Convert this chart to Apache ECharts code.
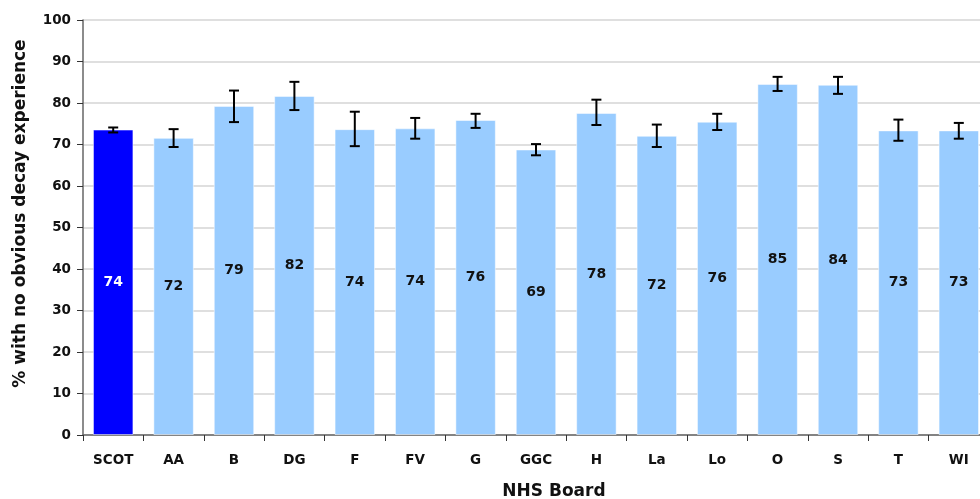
<!DOCTYPE html>
<html><head><meta charset="utf-8">
<script src="https://cdn.jsdelivr.net/npm/echarts@6/dist/echarts.min.js"></script>
<style>html,body{margin:0;padding:0;overflow:hidden;background:#fff}#w{width:980px;height:499px;overflow:hidden;position:relative}#c{width:990px;height:499px;position:absolute;left:0;top:0}</style>
</head><body><div id="w"><div id="c"></div></div>
<script>
const categories = ['SCOT','AA','B','DG','F','FV','G','GGC','H','La','Lo','O','S','T','WI'];
const values = [73.6,71.6,79.3,81.7,73.7,73.9,75.9,68.8,77.6,72.1,75.5,84.6,84.4,73.4,73.4];
const errLow = [72.9,69.4,75.4,78.3,69.6,71.4,74.0,67.4,74.7,69.4,73.5,82.9,82.2,70.9,71.4];
const errHigh = [74.1,73.7,83.0,85.1,77.9,76.4,77.4,70.1,80.8,74.8,77.4,86.3,86.3,76.0,75.2];
const yTicks = [0,10,20,30,40,50,60,70,80,90,100];

const font = 'DejaVu Sans';
const chart = echarts.init(document.getElementById('c'));
chart.setOption({
  animation:false,
  grid:{left:83,right:1,top:20,bottom:64,containLabel:false,outerBoundsMode:'none'},
  xAxis:{type:'category',data:categories,
    name:'NHS Board',nameLocation:'middle',nameGap:48,
    nameTextStyle:{fontFamily:font,fontWeight:'bold',fontSize:17,color:'#111',padding:[0,0,0,36]},
    axisLine:{lineStyle:{color:'#666',width:1.5}},
    axisTick:{show:true,length:6,lineStyle:{color:'#333'}},
    axisLabel:{fontFamily:font,fontWeight:'bold',fontSize:13.5,color:'#111',margin:18}},
  yAxis:{type:'value',min:yTicks[0],max:yTicks[yTicks.length-1],interval:10,
    name:'% with no obvious decay experience',nameLocation:'middle',nameGap:54,
    nameTextStyle:{fontFamily:font,fontWeight:'bold',fontSize:17,color:'#111',padding:[0,0,0,28]},
    axisLine:{show:true,lineStyle:{color:'#666',width:1.5}},
    axisTick:{show:true,length:6,lineStyle:{color:'#333'}},
    axisLabel:{fontFamily:font,fontWeight:'bold',fontSize:13.5,color:'#111',margin:12},
    splitLine:{lineStyle:{color:'#d4d4d4',width:1.5}}},
  series:[
    {type:'bar',barCategoryGap:'33%',
     data:values.map((v,i)=>({value:v,itemStyle:{color:i===0?'#0000FF':'#99CCFF'},
       label:{color:i===0?'#fff':'#111'}})),
     itemStyle:{borderColor:'rgba(255,255,255,0.5)',borderWidth:1},
     label:{show:true,position:'inside',fontFamily:font,fontWeight:'bold',fontSize:14,
       formatter:p=>Math.round(p.value)}},
    {type:'custom',z:10,
     data:categories.map((c,i)=>[i,errLow[i],errHigh[i]]),
     renderItem:function(params,api){
       const lo=api.coord([api.value(0),api.value(1)]);
       const hi=api.coord([api.value(0),api.value(2)]);
       const hw=5;
       const st={stroke:'#000',lineWidth:2};
       return {type:'group',children:[
         {type:'line',shape:{x1:hi[0],y1:hi[1],x2:lo[0],y2:lo[1]},style:st},
         {type:'line',shape:{x1:hi[0]-hw,y1:hi[1],x2:hi[0]+hw,y2:hi[1]},style:st},
         {type:'line',shape:{x1:lo[0]-hw,y1:lo[1],x2:lo[0]+hw,y2:lo[1]},style:st}
       ]};
     }}
  ]
});
</script></body></html>
